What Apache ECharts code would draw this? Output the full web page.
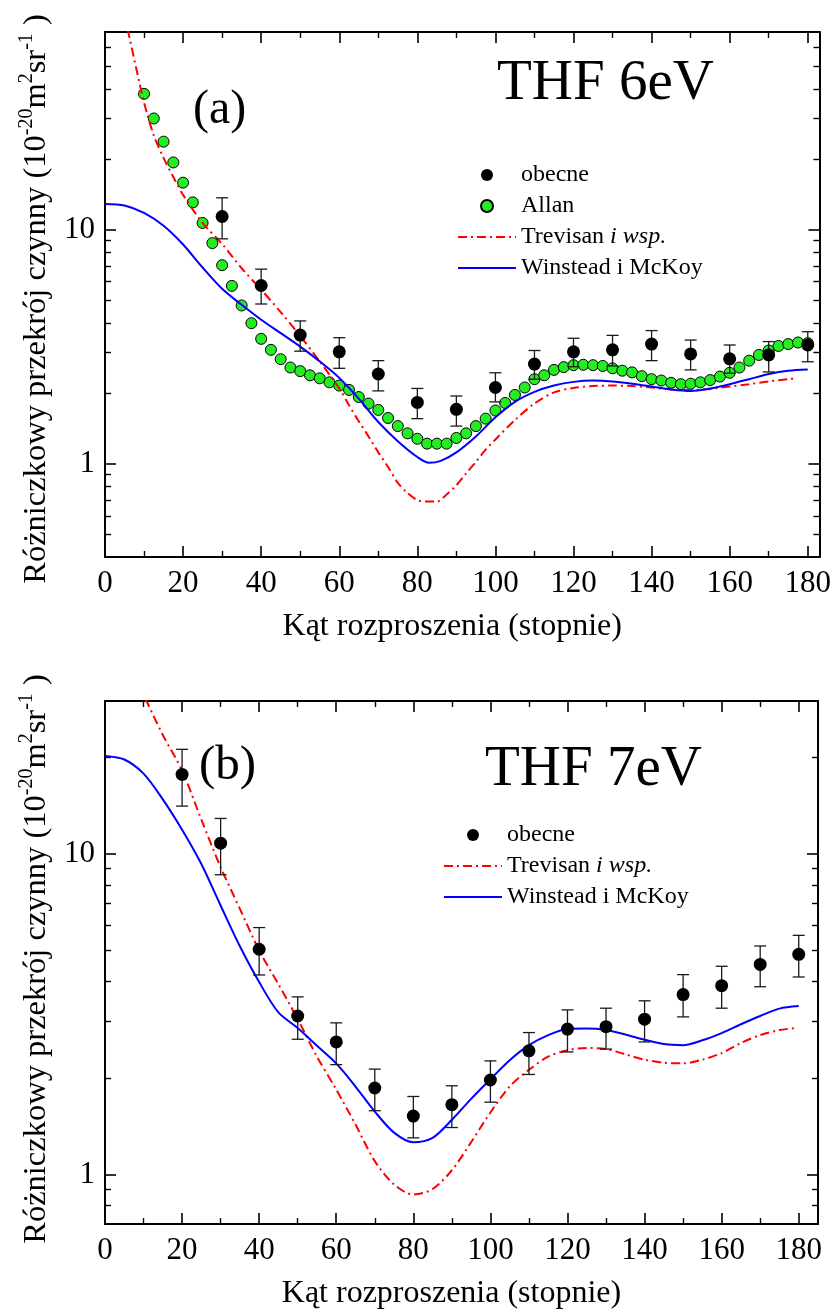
<!DOCTYPE html>
<html><head><meta charset="utf-8">
<script src="https://cdn.jsdelivr.net/npm/echarts@6/dist/echarts.min.js"></script>
<style>html,body{margin:0;padding:0;background:#fff}#c{width:834px;height:1314px}</style>
</head><body><div id="c"></div>
<script>
// ---------- tick labels ----------
const xMajorTicks = [0, 20, 40, 60, 80, 100, 120, 140, 160, 180];
const xMinorTicks = [10, 30, 50, 70, 90, 110, 130, 150, 170];
const yMajorTicks = [1, 10];
const yMinorTicksA = [0.5, 0.6, 0.7, 0.8, 0.9, 2, 3, 4, 5, 6, 7, 8, 9, 20, 30, 40, 50, 60];
const yMinorTicksB = [0.8, 0.9, 2, 3, 4, 5, 6, 7, 8, 9, 20];

// ---------- panel (a): THF 6 eV ----------
const obecneA_x = [30, 40, 50, 60, 70, 80, 90, 100, 110, 120, 130, 140, 150, 160, 170, 180];
const obecneA_y = [11.4, 5.78, 3.55, 3.01, 2.42, 1.83, 1.71, 2.12, 2.67, 3.01, 3.07, 3.25, 2.95, 2.81, 2.92, 3.22];
const obecneA_lo = [9.15, 4.82, 3.03, 2.56, 2.05, 1.56, 1.45, 1.84, 2.30, 2.60, 2.62, 2.76, 2.52, 2.44, 2.47, 2.73];
const obecneA_hi = [13.7, 6.79, 4.08, 3.46, 2.76, 2.10, 1.95, 2.45, 3.05, 3.44, 3.54, 3.71, 3.38, 3.22, 3.33, 3.67];

const allan_x = [10, 12.5, 15, 17.5, 20, 22.5, 25, 27.5, 30, 32.5, 35, 37.5, 40, 42.5, 45, 47.5, 50, 52.5, 55, 57.5,
  60, 62.5, 65, 67.5, 70, 72.5, 75, 77.5, 80, 82.5, 85, 87.5, 90, 92.5, 95, 97.5, 100, 102.5, 105, 107.5,
  110, 112.5, 115, 117.5, 120, 122.5, 125, 127.5, 130, 132.5, 135, 137.5, 140, 142.5, 145, 147.5, 150, 152.5,
  155, 157.5, 160, 162.5, 165, 167.5, 170, 172.5, 175, 177.5, 180];
const allan_y = [38.1, 29.9, 23.8, 19.4, 15.9, 13.1, 10.7, 8.77, 7.06, 5.76, 4.75, 3.99, 3.42, 3.07, 2.80, 2.58, 2.49, 2.39, 2.32, 2.23,
  2.16, 2.07, 1.93, 1.81, 1.70, 1.57, 1.45, 1.35, 1.28, 1.22, 1.22, 1.22, 1.29, 1.35, 1.45, 1.56, 1.69, 1.82, 1.97, 2.12,
  2.30, 2.39, 2.52, 2.59, 2.64, 2.65, 2.64, 2.62, 2.56, 2.50, 2.46, 2.37, 2.30, 2.27, 2.22, 2.19, 2.20, 2.23,
  2.28, 2.36, 2.45, 2.58, 2.76, 2.92, 3.05, 3.19, 3.25, 3.30, 3.28];

const trevA_x = [5.8, 8, 10, 12.5, 15, 17.5, 20, 25, 30, 35, 40, 45, 50, 55, 60, 62.5, 65, 67.5, 70, 72.5, 75, 77.5,
  80, 82.5, 85, 87.5, 90, 92.5, 95, 97.5, 100, 105, 110, 115, 120, 125, 130, 135, 140, 145, 150, 155, 160, 165, 170, 175, 177];
const trevA_y = [72, 49, 35, 25.3, 20.3, 16.8, 14.1, 10.7, 8.7, 6.85, 5.55, 4.45, 3.52, 2.74, 2.10, 1.78, 1.52, 1.31, 1.12, 0.97, 0.83, 0.75,
  0.70, 0.69, 0.69, 0.74, 0.81, 0.91, 1.02, 1.15, 1.27, 1.54, 1.81, 2.02, 2.11, 2.15, 2.16, 2.15, 2.12, 2.08, 2.07, 2.09, 2.14, 2.19, 2.25, 2.30, 2.32];

const winA_x = [0, 5, 10, 15, 20, 25, 30, 35, 40, 45, 50, 55, 60, 65, 70, 75, 80, 83, 86, 90, 95, 100, 105, 110,
  115, 120, 125, 130, 135, 140, 145, 150, 155, 160, 165, 170, 175, 180];
const winA_y = [12.9, 12.7, 11.8, 10.4, 8.65, 6.9, 5.6, 4.78, 4.13, 3.62, 3.17, 2.74, 2.33, 1.90, 1.51, 1.25, 1.07, 1.01, 1.03, 1.12, 1.31, 1.58, 1.84, 2.03,
  2.16, 2.24, 2.27, 2.25, 2.20, 2.14, 2.08, 2.05, 2.10, 2.19, 2.30, 2.42, 2.50, 2.53];

// ---------- panel (b): THF 7 eV ----------
const obecneB_x = [20, 30, 40, 50, 60, 70, 80, 90, 100, 110, 120, 130, 140, 150, 160, 170, 180];
const obecneB_y = [17.7, 10.8, 5.04, 3.12, 2.59, 1.86, 1.52, 1.65, 1.97, 2.43, 2.84, 2.89, 3.05, 3.64, 3.88, 4.52, 4.86];
const obecneB_lo = [14.1, 8.61, 4.19, 2.64, 2.20, 1.58, 1.30, 1.40, 1.68, 2.05, 2.41, 2.46, 2.59, 3.10, 3.30, 3.85, 4.13];
const obecneB_hi = [21.2, 12.9, 5.89, 3.58, 2.97, 2.13, 1.75, 1.89, 2.26, 2.77, 3.26, 3.30, 3.48, 4.20, 4.46, 5.16, 5.57];

const trevB_x = [10.5, 15, 20, 25, 30, 35, 40, 45, 50, 55, 60, 65, 70, 75, 80, 85, 90, 95, 100, 105, 110,
  115, 120, 125, 130, 135, 140, 145, 150, 155, 160, 165, 170, 175, 179];
const trevB_y = [30.5, 23.5, 18.2, 12.8, 9.09, 6.74, 5.00, 3.92, 3.05, 2.33, 1.84, 1.43, 1.10, 0.93, 0.865, 0.90, 1.03, 1.26, 1.56, 1.88, 2.12,
  2.33, 2.44, 2.48, 2.46, 2.37, 2.28, 2.23, 2.22, 2.28, 2.39, 2.57, 2.72, 2.82, 2.86];

const winB_x = [0, 5, 10, 15, 20, 25, 30, 35, 40, 45, 50, 55, 60, 65, 70, 75, 80, 85, 90, 95, 100, 105, 110,
  115, 120, 125, 130, 135, 140, 145, 150, 155, 160, 165, 170, 175, 180];
const winB_y = [20.2, 19.7, 17.8, 14.8, 11.9, 9.3, 6.9, 5.15, 3.98, 3.2, 2.86, 2.52, 2.22, 1.88, 1.57, 1.35, 1.26, 1.30, 1.48, 1.72, 1.98, 2.27, 2.53,
  2.72, 2.84, 2.85, 2.82, 2.73, 2.63, 2.55, 2.53, 2.62, 2.76, 2.94, 3.12, 3.29, 3.35];

// ---------- labels ----------
const labelA = '(a)', titleA = 'THF 6eV';
const labelB = '(b)', titleB = 'THF 7eV';
const xTitle = 'Kąt rozproszenia (stopnie)';
const yTitleRich = 'Różniczkowy przekrój czynny (10{s|-20}m{s|2}sr{s|-1} )';
const N_OBECNE = 'obecne', N_ALLAN = 'Allan', N_TREV = 'Trevisan i wsp.', N_WIN = 'Winstead i McKoy';

// ---------- build ----------
const FONT = 'Liberation Serif';
const zip = (xs, ys) => xs.map((x, i) => [x, ys[i]]);

function xAxes(gi, max) {
  const base = {gridIndex: gi, type: 'value', min: 0, max: max, splitLine: {show: false}};
  const line = {show: true, onZero: false, lineStyle: {color: '#000', width: 2}};
  return [
    Object.assign({}, base, {position: 'bottom', axisLine: line,
      axisTick: {show: true, inside: true, length: 11, lineStyle: {color: '#000', width: 1.6}, customValues: xMajorTicks},
      axisLabel: {show: true, customValues: xMajorTicks, fontFamily: FONT, fontSize: 31, color: '#000', margin: 11},
      name: xTitle, nameLocation: 'middle', nameGap: 54,
      nameTextStyle: {fontFamily: FONT, fontSize: 32, color: '#000', padding: [0, 20, 0, 0]}}),
    Object.assign({}, base, {position: 'bottom', axisLine: {show: false, onZero: false},
      axisTick: {show: true, inside: true, length: 6, lineStyle: {color: '#000', width: 1.4}, customValues: xMinorTicks},
      axisLabel: {show: false}}),
    Object.assign({}, base, {position: 'top', axisLine: line,
      axisTick: {show: true, inside: true, length: 11, lineStyle: {color: '#000', width: 1.6}, customValues: xMajorTicks},
      axisLabel: {show: false}}),
    Object.assign({}, base, {position: 'top', axisLine: {show: false, onZero: false},
      axisTick: {show: true, inside: true, length: 6, lineStyle: {color: '#000', width: 1.4}, customValues: xMinorTicks},
      axisLabel: {show: false}})
  ];
}
function yAxes(gi, min, max, minor, namePad) {
  const base = {gridIndex: gi, type: 'log', logBase: 10, min: min, max: max, splitLine: {show: false}, minorTick: {show: false}};
  const line = {show: true, onZero: false, lineStyle: {color: '#000', width: 2}};
  return [
    Object.assign({}, base, {position: 'left', axisLine: line,
      axisTick: {show: true, inside: true, length: 11, lineStyle: {color: '#000', width: 1.6}, customValues: yMajorTicks},
      axisLabel: {show: true, customValues: yMajorTicks, fontFamily: FONT, fontSize: 31, color: '#000', margin: 10},
      name: yTitleRich, nameLocation: 'middle', nameRotate: 90, nameGap: 48,
      nameTextStyle: {fontFamily: FONT, fontSize: 32.5, color: '#000', verticalAlign: 'bottom', padding: namePad,
        rich: {s: {fontFamily: FONT, fontSize: 20, color: '#000', padding: [0, 0, 20, 0], verticalAlign: 'bottom'}}}}),
    Object.assign({}, base, {position: 'left', axisLine: {show: false, onZero: false},
      axisTick: {show: true, inside: true, length: 6, lineStyle: {color: '#000', width: 1.4}, customValues: minor},
      axisLabel: {show: false}}),
    Object.assign({}, base, {position: 'right', axisLine: line,
      axisTick: {show: true, inside: true, length: 11, lineStyle: {color: '#000', width: 1.6}, customValues: yMajorTicks},
      axisLabel: {show: false}}),
    Object.assign({}, base, {position: 'right', axisLine: {show: false, onZero: false},
      axisTick: {show: true, inside: true, length: 6, lineStyle: {color: '#000', width: 1.4}, customValues: minor},
      axisLabel: {show: false}})
  ];
}
function errSeries(xs, lo, hi, xi, yi) {
  return {
    type: 'custom', name: 'err' + xi, xAxisIndex: xi, yAxisIndex: yi, z: 4, silent: true,
    data: xs.map((x, i) => [x, lo[i], hi[i]]),
    encode: {x: 0, y: [1, 2]},
    renderItem: function (params, api) {
      const x = api.value(0);
      const p1 = api.coord([x, api.value(1)]);
      const p2 = api.coord([x, api.value(2)]);
      const w = 6;
      const st = {stroke: '#1a1a1a', lineWidth: 1.3};
      return {type: 'group', children: [
        {type: 'line', shape: {x1: p1[0], y1: p1[1], x2: p2[0], y2: p2[1]}, style: st},
        {type: 'line', shape: {x1: p1[0] - w, y1: p1[1], x2: p1[0] + w, y2: p1[1]}, style: st},
        {type: 'line', shape: {x1: p2[0] - w, y1: p2[1], x2: p2[0] + w, y2: p2[1]}, style: st}
      ]};
    }
  };
}
const trevStyle = {color: '#ff0000', width: 2, type: [9, 4, 2, 4]};
const winStyle = {color: '#0000ff', width: 2};
function lineSeries(name, data, xi, yi, style) {
  return {type: 'line', name: name, xAxisIndex: xi, yAxisIndex: yi, data: data, symbol: 'none', smooth: 0.3,
    clip: true, z: 3, lineStyle: style, silent: true,
    itemStyle: {color: 'rgba(0,0,0,0)', borderColor: 'rgba(0,0,0,0)', borderWidth: 0}};
}
function dotSeries(name, data, xi, yi, size, color, border) {
  return {type: 'scatter', name: name, xAxisIndex: xi, yAxisIndex: yi, data: data, symbol: 'circle', symbolSize: size,
    z: name === N_OBECNE ? 5 : 2, silent: true,
    itemStyle: {color: color, borderColor: '#000', borderWidth: border, opacity: 1}};
}
const legendText = {fontFamily: FONT, fontSize: 24, color: '#000',
  rich: {it: {fontFamily: FONT, fontSize: 24, color: '#000', fontStyle: 'italic'}}};
const legendFmt = n => n === N_TREV ? 'Trevisan {it|i wsp.}' : n;
const lineItem = n => ({name: n, itemStyle: {opacity: 0}});

const option = {
  animation: false,
  backgroundColor: '#fff',
  grid: [
    {left: 105, top: 32, width: 716, height: 525, containLabel: false},
    {left: 105, top: 701, width: 713, height: 523, containLabel: false}
  ],
  xAxis: xAxes(0, 183).concat(xAxes(1, 185)),
  yAxis: yAxes(0, 0.4, 70, yMinorTicksA, [0, 9, 0, 0]).concat(yAxes(1, 0.7, 30, yMinorTicksB, [0, 0, 0, 7])),
  legend: [
    {left: 452, top: 158, orient: 'vertical', itemWidth: 58, itemHeight: 12, itemGap: 7, selectedMode: false,
      data: [N_OBECNE, N_ALLAN, lineItem(N_TREV), lineItem(N_WIN)], textStyle: legendText, formatter: legendFmt},
    {left: 438, top: 818, orient: 'vertical', itemWidth: 58, itemHeight: 12, itemGap: 7, selectedMode: false,
      data: [N_OBECNE, lineItem(N_TREV), lineItem(N_WIN)], textStyle: legendText, formatter: legendFmt}
  ],
  series: [
    dotSeries(N_ALLAN, zip(allan_x, allan_y), 0, 0, 11, '#22ee22', 1),
    lineSeries(N_TREV, zip(trevA_x, trevA_y), 0, 0, trevStyle),
    lineSeries(N_WIN, zip(winA_x, winA_y), 0, 0, winStyle),
    errSeries(obecneA_x, obecneA_lo, obecneA_hi, 0, 0),
    dotSeries(N_OBECNE, zip(obecneA_x, obecneA_y), 0, 0, 13, '#000', 0),

    lineSeries(N_TREV, zip(trevB_x, trevB_y), 4, 4, trevStyle),
    lineSeries(N_WIN, zip(winB_x, winB_y), 4, 4, winStyle),
    errSeries(obecneB_x, obecneB_lo, obecneB_hi, 4, 4),
    dotSeries(N_OBECNE, zip(obecneB_x, obecneB_y), 4, 4, 13, '#000', 0)
  ],
  graphic: [
    {type: 'text', x: 193, y: 110, style: {text: labelA, font: '48px "Liberation Serif"', fill: '#000', align: 'left', verticalAlign: 'middle'}},
    {type: 'text', x: 497, y: 84, style: {text: titleA, font: '57px "Liberation Serif"', fill: '#000', align: 'left', verticalAlign: 'middle'}},
    {type: 'text', x: 199, y: 766, style: {text: labelB, font: '49px "Liberation Serif"', fill: '#000', align: 'left', verticalAlign: 'middle'}},
    {type: 'text', x: 485, y: 770, style: {text: titleB, font: '57px "Liberation Serif"', fill: '#000', align: 'left', verticalAlign: 'middle'}}
  ]
};
const chart = echarts.init(document.getElementById('c'), null, {renderer: 'canvas'});
chart.setOption(option);
</script></body></html>
